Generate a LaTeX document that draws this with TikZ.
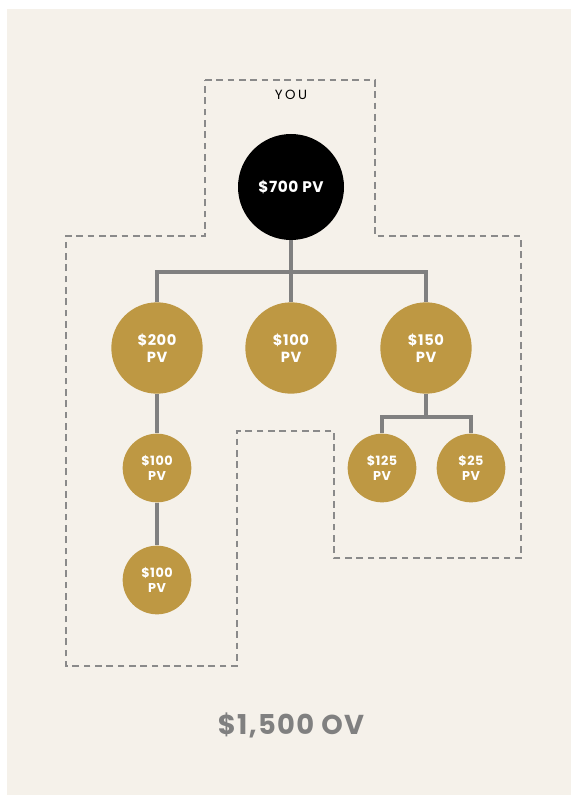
\documentclass[tikz,border=0pt]{standalone}
\usepackage{fontspec}
\setmainfont{Poppins}
\usepackage{tikz}
\usetikzlibrary{positioning}

\definecolor{paper}{HTML}{F5F1EA}
\definecolor{gold}{HTML}{BE9843}
\definecolor{wire}{HTML}{808080}
\definecolor{dashgray}{HTML}{8A8A8A}

\begin{document}
\begin{tikzpicture}[x=0.75pt,y=-0.75pt,
    member/.style={circle,fill=gold,inner sep=0pt,text=white,align=center,font=\bfseries},
    big/.style={member,minimum size=68.5pt,font=\bfseries\fontsize{11}{12.5}\selectfont\addfontfeatures{LetterSpace=4}},
    small/.style={member,minimum size=51.5pt,font=\bfseries\fontsize{9.6}{11}\selectfont\addfontfeatures{LetterSpace=4}},
    link/.style={draw=wire,line width=3pt},
    group/.style={draw=dashgray,line width=1.7pt,dash pattern=on 5pt off 3.5pt}]
  \useasboundingbox (0,0) rectangle (571,795);
  \fill[paper] (7,9) rectangle (571,795);
  % volume group
  \draw[group] (205,80) -- (375,80) -- (375,236) -- (521,236) -- (521,558)
    -- (334,558) -- (334,431) -- (237,431) -- (237,666) -- (66,666)
    -- (66,236) -- (205,236) -- cycle;
  \node[font=\fontsize{10}{12}\selectfont\addfontfeatures{LetterSpace=18}] (label) at (291,95) {YOU};
  \node[circle,fill=black,inner sep=0pt,minimum size=79.5pt,text=white,
    font=\bfseries\fontsize{11.5}{13}\selectfont\addfontfeatures{LetterSpace=4}] (you) at (291,187) {\$700 PV};
  \node[big] (a) at (157,348) {\$200\\PV};
  \node[big] (b) at (291,348) {\$100\\PV};
  \node[big] (c) at (426,348) {\$150\\PV};
  \node[small] (a1) at (157,468) {\$100\\PV};
  \node[small] (a2) at (157,580) {\$100\\PV};
  \node[small] (c1) at (382,468) {\$125\\PV};
  \node[small] (c2) at (471,468) {\$25\\PV};
  \coordinate (split) at (291,272);
  \coordinate (fork) at (426,417);
  \path[link]
    (you) edge (b)
    (a) edge (a1)
    (a1) edge (a2)
    (c) edge (fork);
  \draw[link] (a.north) |- (split) -| (c.north);
  \draw[link] (c1.north) |- (fork) -| (c2.north);
  \node[text=wire,font=\bfseries\fontsize{20.5}{24}\selectfont\addfontfeatures{LetterSpace=5}] (total) at (291,725) {\$1,500 OV};
\end{tikzpicture}
\end{document}
